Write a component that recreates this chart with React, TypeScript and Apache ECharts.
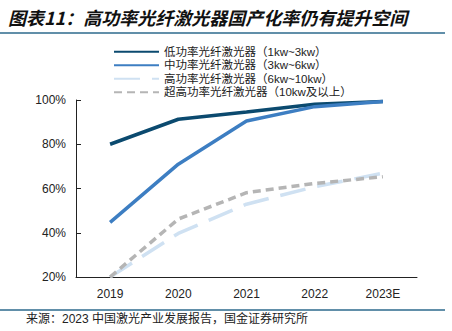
import React, { useEffect, useRef } from "react";
import * as echarts from "echarts";

const categories = ["2019", "2020", "2021", "2022", "2023E"];
const lowPower = [80, 91.3, 94.6, 98.1, 99.3];
const midPower = [44.7, 71, 90.5, 97, 99.3];
const highPower = [20, 39.7, 52.9, 60.8, 66.9];
const ultraPower = [20, 46.2, 58.1, 62.3, 65.3];
const seriesNames = [
  "低功率光纤激光器（1kw~3kw）",
  "中功率光纤激光器（3kw~6kw）",
  "高功率光纤激光器（6kw~10kw）",
  "超高功率光纤激光器（10kw及以上）",
];
const titleText = "图表11：高功率光纤激光器国产化率仍有提升空间";
const sourceText = "来源：2023 中国激光产业发展报告，国金证券研究所";

export default function App() {
  const ref = useRef<HTMLDivElement>(null);
  useEffect(() => {
    if (!ref.current) return;
    const chart = echarts.init(ref.current, null, { renderer: "svg" });
    const cjk = "'Noto Sans CJK SC', 'Liberation Sans', sans-serif";
    const latin = "'Liberation Sans', Arial, sans-serif";
    const mixed = "'Liberation Sans', 'Noto Sans CJK SC', sans-serif";
    const mk = (name: string, data: number[], color: string, type: any) => ({
      name,
      type: "line",
      data,
      symbol: "none",
      lineStyle: { color, width: 3.5, type, cap: "butt" },
      itemStyle: { color },
    });
    chart.setOption({
      animation: false,
      backgroundColor: "#fff",
      graphic: [
        {
          type: "text",
          left: 8,
          top: 8,
          style: {
            text: titleText,
            font: `italic bold 18px ${cjk}`,
            fill: "#111",
          },
        },
        {
          type: "line",
          shape: { x1: 0, y1: 33, x2: 445, y2: 33 },
          style: { stroke: "#2d6a8c", lineWidth: 1.5 },
        },
        {
          type: "line",
          shape: { x1: 0, y1: 310, x2: 445, y2: 310 },
          style: { stroke: "#2d6a8c", lineWidth: 1.5 },
        },
        {
          type: "text",
          left: 26,
          top: 313,
          style: {
            text: sourceText,
            font: `12px ${mixed}`,
            fill: "#222",
          },
        },
      ],
      legend: {
        orient: "vertical",
        left: 108,
        top: 41,
        itemWidth: 45,
        itemHeight: 11,
        itemGap: 2,
        itemStyle: { opacity: 0 },
        textStyle: { fontFamily: mixed, fontSize: 11.5, color: "#222", lineHeight: 11 },
        data: seriesNames,
      },
      grid: { left: 76, right: 35, top: 100, bottom: 54, containLabel: false },
      xAxis: {
        type: "category",
        data: categories,
        boundaryGap: true,
        axisLine: { lineStyle: { color: "#222", width: 1 } },
        axisTick: { inside: true, length: 4, lineStyle: { color: "#222" } },
        axisLabel: { color: "#222", fontSize: 12, fontFamily: latin, margin: 11 },
      },
      yAxis: {
        type: "value",
        min: 20,
        max: 100,
        interval: 20,
        axisLine: { show: true, lineStyle: { color: "#222", width: 1 } },
        axisTick: { show: true, inside: true, length: 5, lineStyle: { color: "#222" } },
        splitLine: { show: false },
        axisLabel: {
          color: "#222",
          fontSize: 12,
          fontFamily: latin,
          margin: 10,
          formatter: "{value}%",
        },
      },
      series: [
        mk(seriesNames[0], lowPower, "#0b4a6f", "solid"),
        mk(seriesNames[1], midPower, "#3d7ec2", "solid"),
        mk(seriesNames[2], highPower, "#cfe1f2", [26, 12]),
        mk(seriesNames[3], ultraPower, "#b5b5b5", [8, 5]),
      ],
    });
    return () => chart.dispose();
  }, []);
  return (
    <div
      ref={ref}
      style={{ position: "fixed", left: 0, top: 0, width: 452, height: 331 }}
    />
  );
}
